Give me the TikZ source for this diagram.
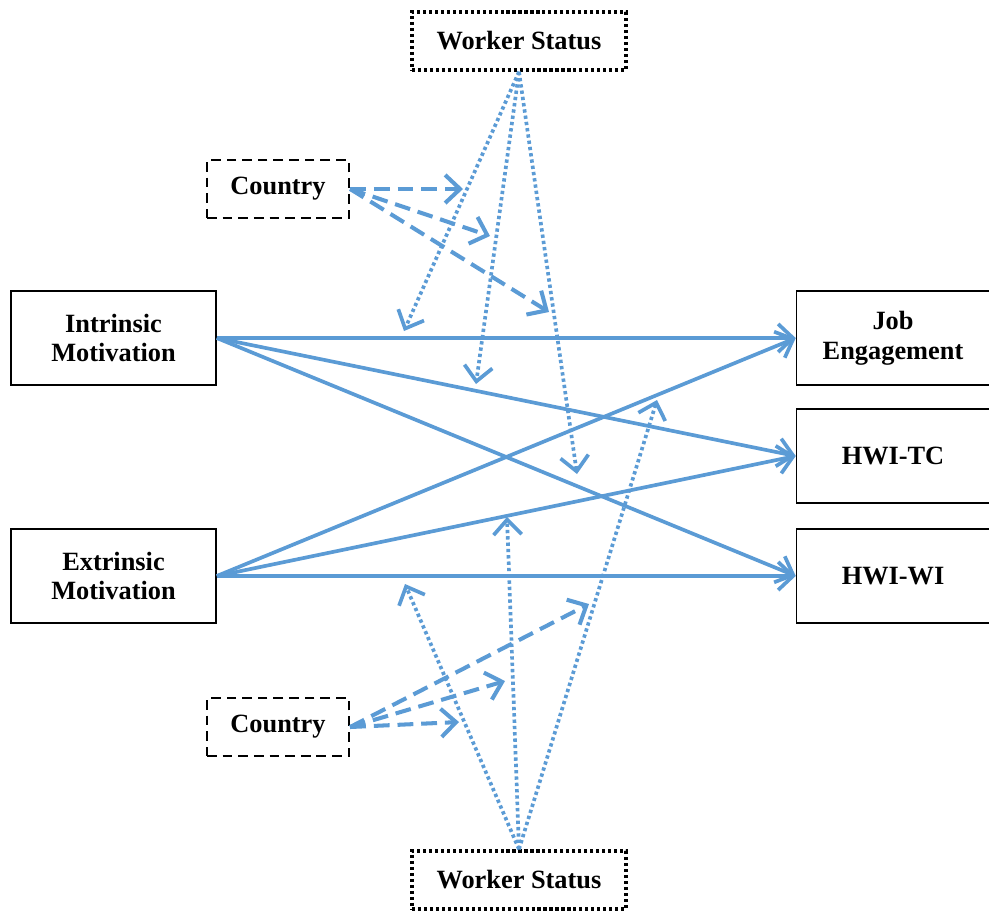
\documentclass[tikz,border=0pt]{standalone}
\usepackage{fontspec}
\setmainfont{Liberation Serif}
\usetikzlibrary{arrows.meta}
\definecolor{linkblue}{RGB}{91,155,213}

\begin{document}
\begin{tikzpicture}[x=0.02cm,y=-0.02cm,
  font=\fontsize{15}{17}\selectfont\bfseries,
  box/.style={draw,line width=0.9pt,minimum width=4.1cm,minimum height=1.88cm,align=center,inner sep=0pt},
  ctrlbox/.style={draw,line width=1.3pt,dash pattern=on 5.5pt off 3.4pt,minimum width=2.84cm,minimum height=1.16cm},
  statbox/.style={draw,line width=2pt,dash pattern=on 1.8pt off 1.6pt,minimum width=4.28cm,minimum height=1.16cm},
  link/.style={linkblue,line width=2.1pt,-{Straight Barb[length=8.5pt,width=16pt]}},
  dotlink/.style={link,dash pattern=on 1.9pt off 1.7pt},
  dashlink/.style={link,line width=2.3pt,dash pattern=on 9pt off 4.5pt}]
  \useasboundingbox (0,0) rectangle (989,910);
  % boxes
  \node [box] (im) at (113.5,338) {Intrinsic\\Motivation};
  \node [box] (em) at (113.5,576) {Extrinsic\\Motivation};
  \node [box,minimum width=3.86cm] (je) at (893,338) {Job\\Engagement};
  \node [box,minimum width=3.86cm] (tc) at (893,456) {HWI-TC};
  \node [box,minimum width=3.86cm] (wi) at (893,576) {HWI-WI};
  \node [statbox] (wstop) at (519,41) {Worker Status};
  \node [statbox] (wsbot) at (519,880) {Worker Status};
  \node [ctrlbox] (cotop) at (278,189) {Country};
  \node [ctrlbox] (cobot) at (278,727) {Country};
  % main paths
  \draw [link] (im.east) -- (je.west);
  \draw [link] (im.east) -- (tc.west);
  \draw [link] (im.east) -- (wi.west);
  \draw [link] (em.east) -- (je.west);
  \draw [link] (em.east) -- (tc.west);
  \draw [link] (em.east) -- (wi.west);
  % moderation points
  \coordinate (w1) at (404,331);
  \coordinate (w2) at (476,384);
  \coordinate (w3) at (577,474);
  \coordinate (c1) at (463,189);
  \coordinate (c2) at (490,236);
  \coordinate (c3) at (549,312);
  \coordinate (v1) at (405,584);
  \coordinate (v2) at (507,517);
  \coordinate (v3) at (657,400);
  \coordinate (d1) at (459,722);
  \coordinate (d2) at (505,681);
  \coordinate (d3) at (589,604);
  \draw [dotlink] (wstop.south) -- (w1);
  \draw [dotlink] (wstop.south) -- (w2);
  \draw [dotlink] (wstop.south) -- (w3);
  \draw [dotlink] (wsbot.north) -- (v1);
  \draw [dotlink] (wsbot.north) -- (v2);
  \draw [dotlink] (wsbot.north) -- (v3);
  \draw [dashlink] (cotop.east) -- (c1);
  \draw [dashlink] (cotop.east) -- (c2);
  \draw [dashlink] (cotop.east) -- (c3);
  \draw [dashlink] (cobot.east) -- (d1);
  \draw [dashlink] (cobot.east) -- (d2);
  \draw [dashlink] (cobot.east) -- (d3);
\end{tikzpicture}
\end{document}
